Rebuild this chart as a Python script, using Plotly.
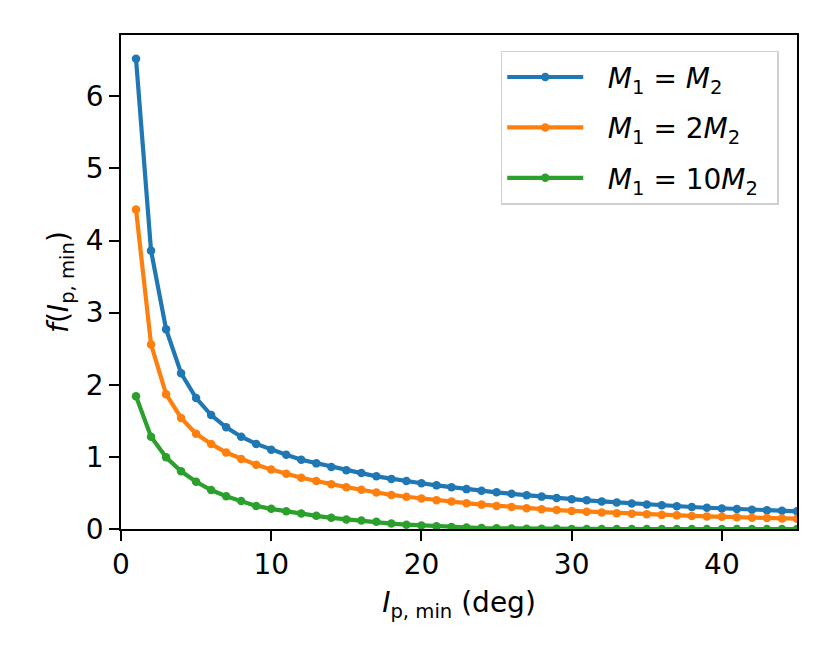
import plotly.graph_objects as go

################
# Data
################

incl_deg = list(range(1, 46))

f_equal = [6.52, 3.86, 2.77, 2.16, 1.815, 1.58, 1.41, 1.28, 1.18, 1.10,
           1.03, 0.96, 0.91, 0.86, 0.815, 0.775, 0.73, 0.695, 0.665, 0.635,
           0.605, 0.578, 0.553, 0.53, 0.508, 0.488, 0.468, 0.449, 0.431, 0.414,
           0.398, 0.383, 0.368, 0.354, 0.341, 0.328, 0.316, 0.305, 0.295, 0.285,
           0.276, 0.267, 0.259, 0.252, 0.245]

f_double = [4.43, 2.56, 1.87, 1.54, 1.32, 1.18, 1.06, 0.97, 0.89, 0.825,
            0.765, 0.71, 0.665, 0.62, 0.58, 0.545, 0.505, 0.472, 0.447, 0.422,
            0.40, 0.38, 0.358, 0.338, 0.32, 0.304, 0.289, 0.274, 0.262, 0.25,
            0.24, 0.23, 0.22, 0.212, 0.204, 0.196, 0.189, 0.181, 0.175, 0.169,
            0.163, 0.157, 0.152, 0.147, 0.143]

f_ten = [1.84, 1.28, 0.995, 0.80, 0.655, 0.54, 0.455, 0.387, 0.32, 0.28,
         0.245, 0.215, 0.183, 0.155, 0.133, 0.118, 0.10, 0.075, 0.06, 0.048,
         0.037, 0.028, 0.02, 0.014, 0.01, 0.007, 0.005, 0.003, 0.002, 0.001,
         0, 0, 0, 0, 0, 0, 0, 0, 0, 0,
         0, 0, 0, 0, 0]

labels = [
    "<i>M</i><sub>1</sub> = <i>M</i><sub>2</sub>",
    "<i>M</i><sub>1</sub> = 2<i>M</i><sub>2</sub>",
    "<i>M</i><sub>1</sub> = 10<i>M</i><sub>2</sub>",
]
colors = ["#1f77b4", "#ff7f0e", "#2ca02c"]

################
# Plot
################

FONT = "DejaVu Sans"

fig = go.Figure()
for i, (ys, name) in enumerate(zip([f_equal, f_double, f_ten], labels)):
    fig.add_trace(go.Scatter(
        x=incl_deg, y=ys, name="\u2002\u2009" + name + "\u2002",
        mode="lines+markers",
        line=dict(color=colors[i], width=4.2),
        marker=dict(color=colors[i], size=8.5),
        legendgroup=f"g{i}",
    ))

axis_common = dict(
    showline=True, linecolor="black", linewidth=2.2, mirror=True,
    ticks="outside", ticklen=9.7, tickwidth=2.2, tickcolor="black",
    showgrid=False, zeroline=False,
    tickfont=dict(family=FONT, size=28, color="black"),
)

fig.update_xaxes(
    range=[0, 45], tickvals=[0, 10, 20, 30, 40],
    title=dict(text="<i>I</i><sub>p, min</sub> (deg)",
               font=dict(family=FONT, size=28, color="black"), standoff=12),
    **axis_common,
)
fig.update_yaxes(
    range=[0, 6.85], tickvals=[0, 1, 2, 3, 4, 5, 6],
    title=dict(text="<i>f</i>(<i>I</i><sub>p, min</sub>)",
               font=dict(family=FONT, size=28, color="black"), standoff=9),
    **axis_common,
)

# page body has an 8px margin, so shift the plot area back by that much
fig.update_layout(
    width=830, height=664,
    margin=dict(l=113, r=41, t=27, b=143),
    plot_bgcolor="white", paper_bgcolor="white",
    font=dict(family=FONT, size=28, color="black"),
    legend=dict(
        x=0.973, y=0.968, xanchor="right", yanchor="top",
        bgcolor="rgba(255,255,255,0.8)", bordercolor="#d0d0d0", borderwidth=1.5,
        font=dict(family=FONT, size=28, color="black"),
        itemwidth=76, tracegroupgap=11,
    ),
)

fig.write_html("out.html")
